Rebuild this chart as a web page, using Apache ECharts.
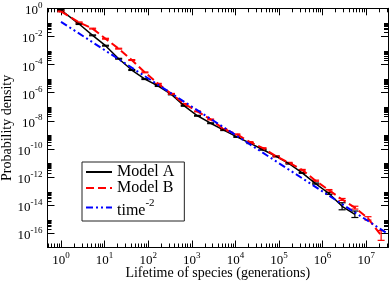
<!DOCTYPE html>
<html><head><meta charset="utf-8">
<script src="https://cdn.jsdelivr.net/npm/echarts@6/dist/echarts.min.js"></script>
<style>html,body{margin:0;padding:0;background:#fff}#c{width:390px;height:283px}</style>
</head><body><div id="c"></div>
<script>
// ---- data ----
const lifetimes = [1, 2.6, 5.3, 10.5, 21, 42, 84, 170, 340, 670, 1350, 2700, 5400, 10800, 21600, 43000, 86000, 1.7e5, 3.4e5, 6.9e5, 1.4e6, 2.8e6, 5.5e6, 1.1e7, 2.2e7];
const modelA = [0.76, 0.076, 0.012, 2.2e-3, 2.6e-4, 4.1e-5, 9.3e-6, 3.0e-6, 7.6e-7, 1.17e-7, 2.3e-8, 6.8e-9, 2.2e-9, 7.2e-10, 2.6e-10, 8.9e-11, 3.0e-11, 9.1e-12, 2.0e-12, 3.5e-13, 6.9e-14, 8.5e-15, 2.3e-15];
const modelB = [0.60, 0.10, 0.036, 6.9e-3, 1.35e-3, 2.1e-4, 2.8e-5, 4.3e-6, 8.3e-7, 1.6e-7, 4.7e-8, 1.26e-8, 2.6e-9, 1.1e-9, 3.1e-10, 1.15e-10, 3.0e-11, 1.05e-11, 3.3e-12, 5.6e-13, 1.17e-13, 2.6e-14, 6.8e-15, 1.17e-15, 7.2e-17];
// error half-widths in decades
const errA = [0.03,0.03,0.03,0.03,0.03,0.03,0.03,0.03,0.03,0.03,0.03,0.03,0.03,0.03,0.03,0.03,0.03,0.03,0.03,0.04,0.06,0.25,0.23];
const errB = [0.03,0.03,0.03,0.03,0.03,0.03,0.03,0.03,0.03,0.03,0.03,0.03,0.03,0.03,0.03,0.03,0.03,0.03,0.03,0.04,0.05,0.07,0.1,0.12,0.35];
const timeX = [1, 3.2e7];
const timeY = [0.11, 9e-17];
const xTickExps = [0, 1, 2, 3, 4, 5, 6, 7];
const yTickExps = [0, -2, -4, -6, -8, -10, -12, -14, -16];
const seriesNames = ['Model A', 'Model B', 'time-2'];

// ---- build ----
const L = Math.log10;
const XMIN = -0.31, XMAX = 7.5, YMIN = -17, YMAX = 0;
const FONT = '"Liberation Serif","DejaVu Serif",serif';
const xMinor = [];
for (let n = -1; n <= 7; n++) for (let m = 2; m <= 9; m++) { const v = n + L(m); if (v >= XMIN && v <= XMAX) xMinor.push(v); }
const yMinor = [];
yTickExps.forEach(e => { for (let m = 2; m <= 9; m++) { const v = e + L(m); if (v <= YMAX && v >= YMIN) yMinor.push(v); } });

const rich = {
  b: { fontSize: 13, padding: [5, 0, 0, 0], verticalAlign: 'bottom', fontFamily: FONT, color: '#000' },
  s: { fontSize: 9, padding: [1.5, 0, 0, 0], verticalAlign: 'top', fontFamily: FONT, color: '#000' }
};
const fmt = v => '{b|10}{s|' + Math.round(v) + '}';
const black = { color: '#000', width: 1 };

function axisPair(kind, pos, major, minor, withLabels, extra) {
  const base = { type: 'value', position: pos, min: kind === 'x' ? XMIN : YMIN, max: kind === 'x' ? XMAX : YMAX,
    splitLine: { show: false }, minorTick: { show: false }, minorSplitLine: { show: false } };
  const a = Object.assign({}, base, {
    axisLine: { show: true, onZero: false, lineStyle: black },
    axisTick: { show: true, inside: true, length: 7, customValues: major, lineStyle: black },
    axisLabel: withLabels ? { show: true, customValues: major, formatter: fmt, rich: rich, margin: kind === 'x' ? 2 : 5 } : { show: false }
  }, extra || {});
  const b = Object.assign({}, base, {
    axisLine: { show: false, onZero: false },
    axisTick: { show: true, inside: true, length: 4, customValues: minor, lineStyle: black },
    axisLabel: { show: false }
  });
  return [a, b];
}

const xAxes = [].concat(
  axisPair('x', 'bottom', xTickExps, xMinor, true, {
    name: 'Lifetime of species (generations)', nameLocation: 'middle', nameGap: 19, nameMoveOverlap: false,
    nameTextStyle: { fontFamily: FONT, fontSize: 14, color: '#000' } }),
  axisPair('x', 'top', xTickExps, xMinor, false)
);
const yAxes = [].concat(
  axisPair('y', 'left', yTickExps, yMinor, true, {
    name: 'Probability density', nameLocation: 'middle', nameGap: 33, nameMoveOverlap: false,
    nameTextStyle: { fontFamily: FONT, fontSize: 14, color: '#000' } }),
  axisPair('y', 'right', yTickExps, yMinor, false)
);

const ptsA = modelA.map((y, i) => [L(lifetimes[i]), L(y)]);
const ptsB = modelB.map((y, i) => [L(lifetimes[i]), L(y)]);
const ptsT = timeY.map((y, i) => [L(timeX[i]), L(y)]);
const ebA = ptsA.map((p, i) => [p[0], p[1], errA[i]]);
const ebB = ptsB.map((p, i) => [p[0], p[1], errB[i]]);

function errRender(color) {
  return function (params, api) {
    const x = api.value(0), y = api.value(1), e = api.value(2);
    const t = api.coord([x, y + e]), b = api.coord([x, y - e]);
    const hw = 3.5, st = { stroke: color, lineWidth: 1.2 };
    return { type: 'group', children: [
      { type: 'line', shape: { x1: t[0], y1: t[1], x2: b[0], y2: b[1] }, style: st },
      { type: 'line', shape: { x1: t[0] - hw, y1: t[1], x2: t[0] + hw, y2: t[1] }, style: st },
      { type: 'line', shape: { x1: b[0] - hw, y1: b[1], x2: b[0] + hw, y2: b[1] }, style: st }
    ] };
  };
}

const chart = echarts.init(document.getElementById('c'), null, { renderer: 'canvas' });
chart.setOption({
  animation: false,
  backgroundColor: '#fff',
  grid: { left: 47.5, top: 8.3, width: 340.5, height: 239.2, containLabel: false, outerBoundsMode: 'none' },
  xAxis: xAxes,
  yAxis: yAxes,
  legend: {
    left: 82, top: 162, orient: 'vertical', selectedMode: false,
    itemWidth: 26, itemHeight: 14, itemGap: 0,
    padding: [2, 10, 2, 3],
    borderColor: '#222', borderWidth: 1, backgroundColor: '#fff',
    data: seriesNames,
    itemStyle: { opacity: 0 },
    formatter: n => n === 'time-2' ? '{t|time}{s|-2}' : n,
    textStyle: { fontFamily: FONT, fontSize: 16, lineHeight: 14, color: '#000',
      rich: {
        t: { fontFamily: FONT, fontSize: 16, lineHeight: 23, padding: [7, 0, 0, 0], verticalAlign: 'bottom', color: '#000' },
        s: { fontFamily: FONT, fontSize: 11, lineHeight: 13, padding: [2, 0, 0, 0], verticalAlign: 'top', color: '#000' }
      } }
  },
  series: [
    { name: seriesNames[0], type: 'line', data: ptsA, symbol: 'none', z: 3,
      lineStyle: { color: '#000', width: 1.5 }, itemStyle: { color: '#000' } },
    { name: seriesNames[1], type: 'line', data: ptsB, symbol: 'none', z: 3,
      lineStyle: { color: '#ff0000', width: 2, type: [8, 4] }, itemStyle: { color: '#ff0000' } },
    { name: seriesNames[2], type: 'line', data: ptsT, symbol: 'none', z: 4,
      lineStyle: { color: '#0000ff', width: 2, type: [7, 3, 2, 3, 2, 3] }, itemStyle: { color: '#0000ff' } },
    { type: 'custom', data: ebA, renderItem: errRender('#000'), z: 3, silent: true },
    { type: 'custom', data: ebB, renderItem: errRender('#ff0000'), z: 3, silent: true }
  ]
});
</script></body></html>
